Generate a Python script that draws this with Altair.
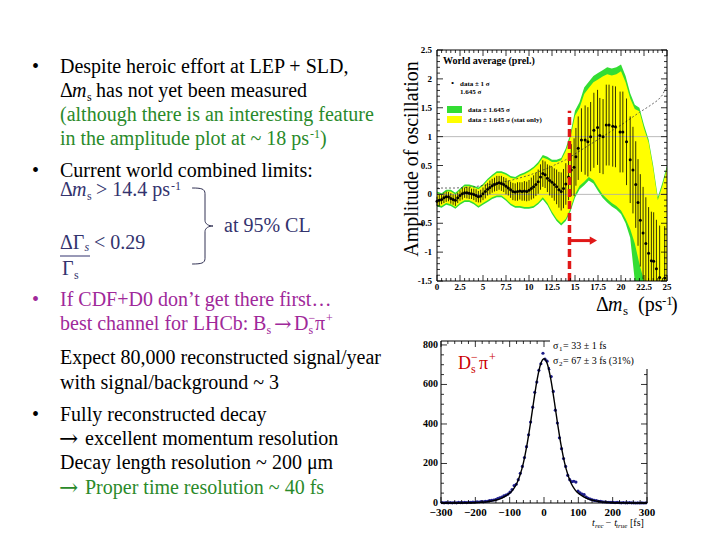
import altair as alt
import pandas as pd
import numpy as np

SERIF = "Liberation Serif"
ARROWFONT = "DejaVu Serif"
OFF = 8  # page margin
W, H = 704, 524

GREEN_TXT = "#2a8a2a"
NAVY = "#33336e"
MAG = "#a0289a"
RED_TXT = "#cc0000"

# ---------------- amplitude plot data ----------------
dm_low = [0, 0.25, 0.5, 0.75, 1, 1.25, 1.5, 1.75, 2, 2.25, 2.5, 2.75, 3, 3.25, 3.5, 3.75,
          4, 4.25, 4.5, 4.75, 5, 5.25, 5.5, 5.75, 6, 6.25, 6.5, 6.75, 7, 7.25, 7.5, 7.75,
          8, 8.25, 8.5, 8.75, 9, 9.25, 9.5, 9.75, 10, 10.25, 10.5, 10.75, 11, 11.25, 11.5,
          11.75, 12, 12.25, 12.5, 12.75, 13, 13.25, 13.5, 13.75, 14]
amp_low = [-0.12, -0.1, -0.09, -0.06, -0.04, -0.04, -0.07, -0.09, -0.1, -0.06, -0.02, 0.01,
           0.03, 0.03, 0.02, 0.01, 0.0, -0.02, -0.04, -0.03, 0.01, 0.05, 0.09, 0.12, 0.15,
           0.17, 0.19, 0.2, 0.19, 0.17, 0.14, 0.11, 0.08, 0.05, 0.04, 0.05, 0.06, 0.05, 0.06,
           0.05, 0.07, 0.1, 0.13, 0.17, 0.22, 0.3, 0.36, 0.34, 0.28, 0.24, 0.21, 0.17, 0.13,
           0.08, 0.05, 0.1, 0.18]
err_low = [0.08, 0.09, 0.08, 0.09, 0.09, 0.08, 0.09, 0.09, 0.1, 0.09, 0.09, 0.1, 0.09, 0.1,
           0.1, 0.09, 0.1, 0.11, 0.1, 0.11, 0.11, 0.12, 0.11, 0.12, 0.12, 0.12, 0.13, 0.12,
           0.13, 0.13, 0.14, 0.13, 0.14, 0.15, 0.15, 0.16, 0.15, 0.16, 0.17, 0.17, 0.18, 0.19,
           0.2, 0.2, 0.21, 0.22, 0.23, 0.23, 0.24, 0.26, 0.27, 0.28, 0.3, 0.31, 0.33, 0.34, 0.36]
dm_high = [14.3, 14.6, 14.9, 15.1, 15.35, 15.7, 16.1, 16.4, 16.7, 17.05, 17.45, 17.7, 18.05,
           18.4, 18.7, 19.1, 19.4, 19.9, 20.2, 20.6, 21.0, 21.3, 21.6, 21.85, 22.1, 22.4, 22.7,
           23.0, 23.3, 23.55, 23.85, 24.2, 24.75]
amp_high = [0.3, 0.42, 0.47, 0.65, 0.8, 0.94, 0.94, 0.91, 1.0, 1.11, 1.16, 1.02, 1.0, 1.2, 1.2,
            1.18, 1.17, 1.08, 1.08, 0.91, 0.6, 0.42, 0.17, -0.14, -0.45, -0.67, -0.85, -1.02,
            -1.15, -1.16, -1.29, -1.44, -1.45]
err_high = [0.4, 0.45, 0.5, 0.5, 0.55, 0.55, 0.6, 0.6, 0.6, 0.65, 0.65, 0.65, 0.65, 0.7, 0.7,
            0.7, 0.7, 0.7, 0.7, 0.75, 0.75, 0.75, 0.75, 0.75, 0.8, 0.8, 0.8, 0.8, 0.85, 0.85,
            0.85, 0.9, 0.9]

band_dm = [0, 0.5, 1, 1.5, 2, 2.5, 3, 3.5, 4, 4.5, 5, 5.5, 6, 6.5, 7, 7.5, 8, 8.5, 9, 9.5,
           10, 10.5, 11, 11.5, 12, 12.5, 13, 13.5, 14, 14.5, 15, 15.5, 16, 16.5, 17, 17.5,
           18, 18.5, 19, 19.5, 20, 20.5, 21, 21.5, 22, 22.5, 23, 23.5, 24, 24.5, 25]
green_hi = [0.05, 0.02, 0.08, 0.08, 0.03, 0.1, 0.17, 0.17, 0.15, 0.12,
            0.18, 0.27, 0.34, 0.4, 0.4, 0.37, 0.32, 0.3, 0.35, 0.38,
            0.42, 0.48, 0.56, 0.68, 0.65, 0.6, 0.6, 0.63, 0.8, 1.05,
            1.45, 1.6, 1.85, 1.95, 2.05, 2.1, 2.15, 2.2, 2.18, 2.2,
            2.25, 2.05, 1.75, 1.55, 1.5, 1.2, 0.95, 0.5, -0.05, 0.2, 0.5]
yellow_hi = [0.02, -0.01, 0.05, 0.05, 0.0, 0.07, 0.14, 0.14, 0.12, 0.09,
             0.15, 0.24, 0.31, 0.37, 0.37, 0.34, 0.29, 0.27, 0.32, 0.35,
             0.39, 0.45, 0.52, 0.64, 0.61, 0.56, 0.56, 0.59, 0.75, 0.98,
             1.36, 1.5, 1.74, 1.84, 1.94, 1.99, 2.04, 2.08, 2.06, 2.08,
             2.13, 1.94, 1.66, 1.48, 1.44, 1.14, 0.9, 0.45, -0.1, 0.15, 0.45]
yellow_lo = [-0.18, -0.2, -0.15, -0.17, -0.22, -0.15, -0.1, -0.1, -0.14, -0.2,
             -0.15, -0.1, -0.05, -0.02, -0.02, -0.08, -0.16, -0.2, -0.2, -0.22,
             -0.22, -0.2, -0.14, -0.05, -0.15, -0.3, -0.42, -0.5, -0.42, -0.25,
             0.0, 0.15, 0.22, 0.3, 0.25, 0.12, 0.0, -0.08, -0.15, -0.2,
             -0.28, -0.42, -0.6, -0.85, -1.2, -1.5, -1.5, -1.5, -1.5, -1.5, -1.5]
green_lo = [-0.21, -0.23, -0.18, -0.2, -0.25, -0.18, -0.13, -0.13, -0.17, -0.23,
            -0.18, -0.13, -0.08, -0.05, -0.05, -0.11, -0.19, -0.23, -0.23, -0.25,
            -0.25, -0.23, -0.17, -0.09, -0.19, -0.34, -0.46, -0.54, -0.46, -0.3,
            -0.06, 0.09, 0.16, 0.24, 0.19, 0.06, -0.06, -0.14, -0.21, -0.26,
            -0.34, -0.5, -0.75, -1.5, -1.5, -1.5, -1.5, -1.5, -1.5, -1.5, -1.5]

sig_dm = [0, 2, 4, 6, 8, 10, 12, 14, 16, 18, 20, 22, 23, 24, 24.5, 25]
sig_amp = [0.11, 0.11, 0.13, 0.18, 0.24, 0.33, 0.45, 0.6, 0.8, 1.0, 1.2, 1.42, 1.52, 1.63, 1.72, 1.88]

limit_dm = 14.4
limit_top = 1.45
arrow_from, arrow_to, arrow_amp = 14.4, 17.0, -0.8

amp_xticks = [0, 2.5, 5, 7.5, 10, 12.5, 15, 17.5, 20, 22.5, 25]
amp_xlabels = ["0", "2.5", "5", "7.5", "10", "12.5", "15", "17.5", "20", "22.5", "25"]
amp_yticks = [-1.5, -1, -0.5, 0, 0.5, 1, 1.5, 2, 2.5]
amp_ylabels = ["-1.5", "-1", "-0.5", "0", "0.5", "1", "1.5", "2", "2.5"]

# ---------------- proper-time resolution data ----------------
t_bins = list(range(-297, 298, 6))
counts = [2, 1, 2, 1, 2, 1, 2, 1, 3, 2, 2, 3, 2, 4, 3, 5, 4, 6, 5, 7, 6, 8, 9, 12, 13,
          15, 17, 22, 26, 30, 36, 40, 45, 55, 68, 88, 95, 118, 150, 185, 230, 285, 345,
          410, 485, 560, 612, 672, 705, 758, 728, 718, 680, 640, 565, 470, 405, 330, 275,
          225, 185, 140, 118, 108, 110, 106, 60, 52, 45, 42, 30, 24, 20, 16, 13, 12, 9, 8,
          6, 5, 4, 4, 3, 3, 2, 3, 2, 1, 2, 1, 1, 2, 1, 1, 0, 1, 0, 1, 0, 1]
t_fit = list(range(-300, 301, 10))
fit_vals = [0, 0, 0, 0, 0, 0, 0, 1, 1, 1, 2, 3, 4, 5, 8, 11, 15, 20, 27, 37, 49, 68, 96, 140,
            203, 290, 397, 515, 624, 702, 730, 702, 624, 515, 397, 290, 203, 140, 96, 68, 49,
            37, 27, 20, 15, 11, 8, 5, 4, 3, 2, 1, 1, 1, 0, 0, 0, 0, 0, 0, 0]
res_xticks = [-300, -200, -100, 0, 100, 200, 300]
res_xlabels = ["\u2212300", "\u2212200", "\u2212100", "0", "100", "200", "300"]
res_yticks = [0, 200, 400, 600, 800]
res_ylabels = ["0", "200", "400", "600", "800"]

# ---------------- scales (pixel ranges place each panel) ----------------
def sc(dom, rng):
    return alt.Scale(domain=dom, range=rng, nice=False, zero=False, clamp=True)

SX1 = sc([0, 25], [437 - OFF, 667 - OFF])
SY1 = sc([-1.5, 2.5], [281 - OFF, 50 - OFF])
SX2 = sc([-300, 300], [441 - OFF, 647 - OFF])
SY2 = sc([0, 820], [503 - OFF, 341 - OFF])

ONE = pd.DataFrame({"k": [0]})


def txt(s, x, y, size=20, color="black", style="normal", weight="normal",
        align="left", baseline="alphabetic", angle=0, font=SERIF):
    return alt.Chart(ONE).mark_text(
        text=s, font=font, fontSize=size, color=color, fontStyle=style,
        fontWeight=weight, align=align, baseline=baseline, angle=angle
    ).encode(x=alt.value(x - OFF), y=alt.value(y - OFF))


def arrow_txt(x, y, color="black", size=23):
    return txt("\u2192", x, y, size=size, color=color, font=ARROWFONT)


def X1(f):
    return alt.X(f, type="quantitative", scale=SX1, axis=None)


def Y1(f):
    return alt.Y(f, type="quantitative", scale=SY1, axis=None)


def X2(f):
    return alt.X(f, type="quantitative", scale=SX2, axis=None)


def Y2(f):
    return alt.Y(f, type="quantitative", scale=SY2, axis=None)


layers = []

# ================= amplitude plot =================
band = pd.DataFrame({"dm": band_dm, "gh": green_hi, "gl": green_lo,
                     "yh": yellow_hi, "yl": yellow_lo})
layers.append(alt.Chart(band).mark_area(color="#33dd33", opacity=1).encode(
    x=X1("dm"), y=Y1("gl"), y2=alt.Y2("gh")))
layers.append(alt.Chart(band).mark_area(color="#ffff00", opacity=1).encode(
    x=X1("dm"), y=Y1("yl"), y2=alt.Y2("yh")))

hl = pd.DataFrame({"x0": [0, 0], "x1": [25, 25], "y": [0, 1]})
layers.append(alt.Chart(hl).mark_rule(color="#aaaaaa", strokeWidth=0.8).encode(
    x=X1("x0"), x2=alt.X2("x1"), y=Y1("y")))

sig = pd.DataFrame({"dm": sig_dm, "a": sig_amp})
layers.append(alt.Chart(sig).mark_line(color="#444444", strokeWidth=0.8,
                                       strokeDash=[2, 2]).encode(x=X1("dm"), y=Y1("a")))

pts = pd.DataFrame({"dm": dm_low + dm_high, "a": amp_low + amp_high, "e": err_low + err_high})
layers.append(alt.Chart(pts).transform_calculate(
    lo="datum.a - datum.e", hi="datum.a + datum.e").mark_rule(
    color="black", strokeWidth=0.8).encode(x=X1("dm"), y=Y1("lo"), y2=alt.Y2("hi")))
layers.append(alt.Chart(pts).mark_circle(color="black", size=9, opacity=1).encode(
    x=X1("dm"), y=Y1("a")))

lim = pd.DataFrame({"x": [limit_dm], "y0": [-1.5], "y1": [limit_top]})
layers.append(alt.Chart(lim).mark_rule(color="#e01818", strokeWidth=3.5,
                                       strokeDash=[8, 4]).encode(
    x=X1("x"), y=Y1("y0"), y2=alt.Y2("y1")))
arr = pd.DataFrame({"x0": [arrow_from], "x1": [arrow_to], "y": [arrow_amp]})
layers.append(alt.Chart(arr).mark_rule(color="#e01818", strokeWidth=3).encode(
    x=X1("x0"), x2=alt.X2("x1"), y=Y1("y")))
layers.append(alt.Chart(arr).mark_point(shape="triangle-right", filled=True, size=70,
                                        color="#e01818", opacity=1).encode(
    x=X1("x1"), y=Y1("y")))

frame1 = pd.DataFrame({"x0": [0], "x1": [25], "y0": [-1.5], "y1": [2.5]})
layers.append(alt.Chart(frame1).mark_rect(fill=None, stroke="black", strokeWidth=1).encode(
    x=X1("x0"), x2=alt.X2("x1"), y=Y1("y0"), y2=alt.Y2("y1")))


# ticks (inward, ROOT style)
def xticks(vals, scale_x, ybot, ytop, ln):
    d = pd.DataFrame({"v": vals})
    enc_x = alt.X("v", type="quantitative", scale=scale_x, axis=None)
    return [
        alt.Chart(d).mark_rule(color="black", strokeWidth=0.8).encode(
            x=enc_x, y=alt.value(ybot - OFF), y2=alt.value(ybot - OFF - ln)),
        alt.Chart(d).mark_rule(color="black", strokeWidth=0.8).encode(
            x=enc_x, y=alt.value(ytop - OFF), y2=alt.value(ytop - OFF + ln)),
    ]


def yticks(vals, scale_y, xl, xr, ln):
    d = pd.DataFrame({"v": vals})
    enc_y = alt.Y("v", type="quantitative", scale=scale_y, axis=None)
    return [
        alt.Chart(d).mark_rule(color="black", strokeWidth=0.8).encode(
            y=enc_y, x=alt.value(xl - OFF), x2=alt.value(xl - OFF + ln)),
        alt.Chart(d).mark_rule(color="black", strokeWidth=0.8).encode(
            y=enc_y, x=alt.value(xr - OFF), x2=alt.value(xr - OFF - ln)),
    ]


layers += xticks(amp_xticks, SX1, 281, 50, 6)
layers += xticks([v for v in np.arange(0.5, 25, 0.5) if v not in amp_xticks], SX1, 281, 50, 3)
layers += yticks(amp_yticks, SY1, 437, 667, 6)
layers += yticks([round(v, 2) for v in np.arange(-1.4, 2.5, 0.1)
                  if round(v, 2) not in amp_yticks], SY1, 437, 667, 3)

xl1 = pd.DataFrame({"v": amp_xticks, "t": amp_xlabels})
layers.append(alt.Chart(xl1).mark_text(font=SERIF, fontSize=9, fontWeight="bold",
                                       baseline="middle", align="center").encode(
    x=X1("v"), y=alt.value(287 - OFF), text="t:N"))
yl1 = pd.DataFrame({"v": amp_yticks, "t": amp_ylabels})
layers.append(alt.Chart(yl1).mark_text(font=SERIF, fontSize=9, fontWeight="bold",
                                       baseline="middle", align="right").encode(
    y=Y1("v"), x=alt.value(432 - OFF), text="t:N"))

layers.append(txt("Amplitude of oscillation", 412, 159, size=20, align="center",
                  baseline="middle", angle=270))
layers.append(txt("\u0394", 596, 311, size=20))
layers.append(txt("m", 608, 311, size=20, style="italic"))
layers.append(txt("s", 623, 315, size=13))
layers.append(txt("(ps", 638, 311, size=20))
layers.append(txt("-1", 662, 305, size=13))
layers.append(txt(")", 671, 311, size=20))

# legend of amplitude plot
layers.append(txt("World average (prel.)", 443, 64, size=10, weight="bold"))
layers.append(txt("\u2022", 451, 86, size=9))
layers.append(txt("data \u00b1 1 \u03c3", 460, 86, size=7, weight="bold"))
layers.append(txt("1.645 \u03c3", 460, 94, size=7, weight="bold"))
layers.append(alt.Chart(ONE).mark_rect(color="#33dd33").encode(
    x=alt.value(447 - OFF), x2=alt.value(462 - OFF), y=alt.value(106 - OFF), y2=alt.value(113 - OFF)))
layers.append(alt.Chart(ONE).mark_rect(color="#ffff00").encode(
    x=alt.value(447 - OFF), x2=alt.value(462 - OFF), y=alt.value(116 - OFF), y2=alt.value(123 - OFF)))
layers.append(txt("data \u00b1 1.645 \u03c3", 468, 112, size=7, weight="bold"))
layers.append(txt("data \u00b1 1.645 \u03c3 (stat only)", 468, 122, size=7, weight="bold"))

# ================= resolution plot =================
fit = pd.DataFrame({"t": t_fit, "n": fit_vals})
hist = pd.DataFrame({"t": t_bins, "n": counts})
layers.append(alt.Chart(hist).mark_circle(color="#1c1c8a", size=10, opacity=1).encode(
    x=X2("t"), y=Y2("n")))
layers.append(alt.Chart(fit).mark_line(color="black", strokeWidth=1.4,
                                       interpolate="monotone").encode(x=X2("t"), y=Y2("n")))
frame2 = pd.DataFrame({"x0": [-300], "x1": [300], "y0": [0], "y1": [820]})
layers.append(alt.Chart(frame2).mark_rect(fill=None, stroke="black", strokeWidth=1).encode(
    x=X2("x0"), x2=alt.X2("x1"), y=Y2("y0"), y2=alt.Y2("y1")))
layers += xticks(res_xticks, SX2, 503, 341, 6)
layers += xticks([v for v in range(-280, 300, 20) if v not in res_xticks], SX2, 503, 341, 3)
layers += yticks(res_yticks, SY2, 441, 647, 6)
layers += yticks([v for v in range(50, 820, 50) if v not in res_yticks], SY2, 441, 647, 3)

# white stats box covering the top-right of the frame
layers.append(alt.Chart(ONE).mark_rect(color="white").encode(
    x=alt.value(550 - OFF), x2=alt.value(652 - OFF), y=alt.value(336 - OFF), y2=alt.value(369 - OFF)))

xl2 = pd.DataFrame({"v": res_xticks, "t": res_xlabels})
layers.append(alt.Chart(xl2).mark_text(font=SERIF, fontSize=11, fontWeight="bold",
                                       baseline="middle", align="center").encode(
    x=X2("v"), y=alt.value(513 - OFF), text="t:N"))
yl2 = pd.DataFrame({"v": res_yticks, "t": res_ylabels})
layers.append(alt.Chart(yl2).mark_text(font=SERIF, fontSize=10, fontWeight="bold",
                                       baseline="middle", align="right").encode(
    y=Y2("v"), x=alt.value(438 - OFF), text="t:N"))

layers.append(txt("D", 458, 369, size=18, color=RED_TXT))
layers.append(txt("s", 471, 373, size=12, color=RED_TXT))
layers.append(txt("\u2212", 471, 361, size=12, color=RED_TXT))
layers.append(txt("\u03c0", 479, 369, size=18, color=RED_TXT))
layers.append(txt("+", 489, 361, size=12, color=RED_TXT))

layers.append(txt("\u03c3", 553, 349, size=10))
layers.append(txt("1", 559, 351, size=7))
layers.append(txt("= 33 \u00b1 1 fs", 563, 349, size=10))
layers.append(txt("\u03c3", 553, 364, size=10))
layers.append(txt("2", 559, 366, size=7))
layers.append(txt("= 67 \u00b1 3 fs (31%)", 563, 364, size=10))

layers.append(txt("t", 592, 526, size=10, style="italic"))
layers.append(txt("rec", 595, 528, size=7, style="italic"))
layers.append(txt("\u2212 t", 605, 526, size=10, style="italic"))
layers.append(txt("true", 616, 528, size=7, style="italic"))
layers.append(txt("[fs]", 630, 526, size=10))

# ================= slide text =================
for yb in [73, 177, 306, 421]:
    col = MAG if yb == 306 else "black"
    layers.append(txt("\u2022", 32, yb, size=20, color=col))

layers.append(txt("Despite heroic effort at LEP + SLD,", 60, 73))
layers.append(txt("\u0394", 60, 97))
layers.append(txt("m", 72, 97, style="italic"))
layers.append(txt("s", 87, 101, size=12))
layers.append(txt("has not yet been measured", 96, 97))
layers.append(txt("(although there is an interesting feature", 60, 121, color=GREEN_TXT))
layers.append(txt("in the amplitude plot at ~ 18 ps", 60, 145, color=GREEN_TXT))
layers.append(txt("-1", 310, 138, size=12, color=GREEN_TXT))
layers.append(txt(")", 320, 145, color=GREEN_TXT))

layers.append(txt("Current world combined limits:", 60, 177))
layers.append(txt("\u0394", 60, 196, color=NAVY))
layers.append(txt("m", 72, 196, style="italic", color=NAVY))
layers.append(txt("s", 87, 200, size=12, color=NAVY))
layers.append(txt("> 14.4 ps", 96, 196, color=NAVY))
layers.append(txt("-1", 171, 190, size=12, color=NAVY))
layers.append(txt("at 95% CL", 224, 232, color=NAVY))
layers.append(txt("\u0394\u0393", 60, 249, color=NAVY))
layers.append(txt("s", 84.5, 251, size=12, style="italic", color=NAVY))
layers.append(txt("< 0.29", 94, 249, color=NAVY))
layers.append(alt.Chart(ONE).mark_rule(color=NAVY, strokeWidth=1).encode(
    x=alt.value(60 - OFF), x2=alt.value(90 - OFF), y=alt.value(256 - OFF)))
layers.append(txt("\u0393", 62, 275, color=NAVY))
layers.append(txt("s", 74, 279, size=12, color=NAVY))
brace = ("M -0.34 -1 C -0.1 -1 0 -0.98 0 -0.85 L 0 -0.15 C 0 -0.05 0.1 0 0.21 0 "
         "C 0.1 0 0 0.05 0 0.15 L 0 0.85 C 0 0.98 -0.1 1 -0.34 1")
layers.append(alt.Chart(ONE).mark_point(shape=brace, size=5776, filled=False,
                                        color="#333355", strokeWidth=1, opacity=1).encode(
    x=alt.value(205 - OFF), y=alt.value(226 - OFF)))

layers.append(txt("If CDF+D0 don\u2019t get there first\u2026", 60, 306, color=MAG))
layers.append(txt("best channel for LHCb:", 60, 330, color=MAG))
layers.append(txt("B", 253, 330, color=MAG))
layers.append(txt("s", 266.5, 334, size=12, color=MAG))
layers.append(arrow_txt(274, 331, color=MAG, size=21))
layers.append(txt("D", 294, 330, color=MAG))
layers.append(txt("s", 308.5, 334, size=12, color=MAG))
layers.append(txt("\u2212", 308.5, 322, size=12, color=MAG))
layers.append(txt("\u03c0", 315, 330, color=MAG))
layers.append(txt("+", 326, 322, size=12, color=MAG))

layers.append(txt("Expect 80,000 reconstructed signal/year", 60, 364))
layers.append(txt("with signal/background ~ 3", 60, 389))
layers.append(txt("Fully reconstructed decay", 60, 421))
layers.append(arrow_txt(59, 446))
layers.append(txt("excellent momentum resolution", 85, 445))
layers.append(txt("Decay length resolution ~ 200 \u03bcm", 60, 469))
layers.append(arrow_txt(59, 495, color=GREEN_TXT))
layers.append(txt("Proper time resolution ~ 40 fs", 85, 494, color=GREEN_TXT))

chart = alt.layer(*layers).resolve_scale(
    x="independent", y="independent"
).properties(
    width=W, height=H, padding=0, autosize=alt.AutoSizeParams(type="none"),
    background="white"
).configure_view(stroke=None)

chart.save("out.html", embed_options={"renderer": "svg", "actions": False})
